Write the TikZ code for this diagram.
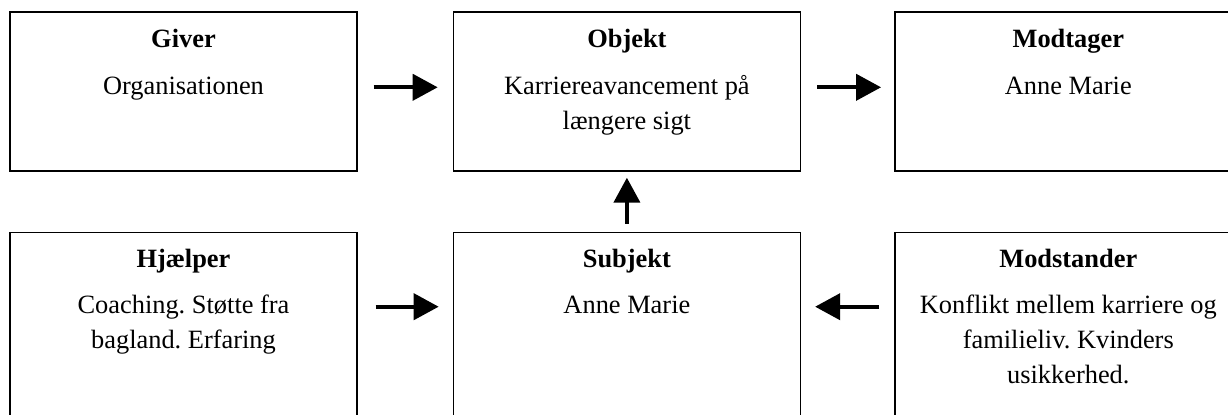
\documentclass[tikz,border=0pt]{standalone}
\usepackage{fontspec}
\setmainfont{Liberation Serif}
\frenchspacing
\usetikzlibrary{arrows.meta,positioning}

\begin{document}
\begin{tikzpicture}[
 x=0.5pt,y=-0.5pt,
 box/.style={draw,line width=0.7pt,minimum width=173.5pt,minimum height=79.5pt,inner sep=0pt},
 tallbox/.style={box,minimum height=93.5pt},
 title/.style={font=\fontsize{13.2}{17.5}\selectfont\bfseries,anchor=base,inner sep=0pt},
 body/.style={font=\fontsize{13.2}{17.5}\selectfont,align=center,anchor=north,inner sep=0pt},
 arr/.style={-{Triangle[length=12.5pt,width=13pt]},line width=2pt}
]
\useasboundingbox (0,0) rectangle (1228,414);
% top row
\node[box] (giver) at (183.5,91.5) {};
\node[box,right=47.5pt of giver] (objekt) {};
\node[box,right=46.5pt of objekt] (modtager) {};
% bottom row
\node[tallbox,below=30pt of giver] (hjaelper) {};
\node[tallbox,below=30pt of objekt] (subjekt) {};
\node[tallbox,below=30pt of modtager] (modstander) {};
% texts
\node[title] (giverT) at ([yshift=-18pt]giver.north) {Giver};
\node[body] (giverB) at ([yshift=-29.25pt]giver.north) {\strut Organisationen};
\node[title] (objektT) at ([yshift=-18pt]objekt.north) {Objekt};
\node[body] (objektB) at ([yshift=-29.25pt]objekt.north) {\strut Karriereavancement på\\længere sigt};
\node[title] (modtagerT) at ([yshift=-18pt]modtager.north) {Modtager};
\node[body] (modtagerB) at ([yshift=-29.25pt]modtager.north) {\strut Anne Marie};
\node[title] (hjaelperT) at ([yshift=-18pt]hjaelper.north) {Hjælper};
\node[body] (hjaelperB) at ([yshift=-28.25pt]hjaelper.north) {\strut Coaching. Støtte fra\\bagland. Erfaring};
\node[title] (subjektT) at ([yshift=-18pt]subjekt.north) {Subjekt};
\node[body] (subjektB) at ([yshift=-28.25pt]subjekt.north) {\strut Anne Marie};
\node[title] (modstanderT) at ([yshift=-18pt]modstander.north) {Modstander};
\node[body] (modstanderB) at ([yshift=-28.25pt]modstander.north) {\strut Konflikt mellem karriere og\\familieliv. Kvinders\\usikkerhed.};
% arrows
\draw[arr,shorten <=8pt,shorten >=7.5pt] ([yshift=-38pt]giver.north east) -- ([yshift=-38pt]objekt.north west);
\draw[arr,shorten <=8pt,shorten >=6.5pt] ([yshift=-38pt]objekt.north east) -- ([yshift=-38pt]modtager.north west);
\draw[arr,shorten <=4pt,shorten >=3pt] (objekt.south |- subjekt.north) -- (objekt.south);
\draw[arr,shorten <=9pt,shorten >=7pt] ([yshift=-37.5pt]hjaelper.north east) -- ([yshift=-37.5pt]subjekt.north west);
\draw[arr,shorten <=7.5pt,shorten >=7pt] ([yshift=-37.5pt]modstander.north west) -- ([yshift=-37.5pt]subjekt.north east);
\end{tikzpicture}
\end{document}
